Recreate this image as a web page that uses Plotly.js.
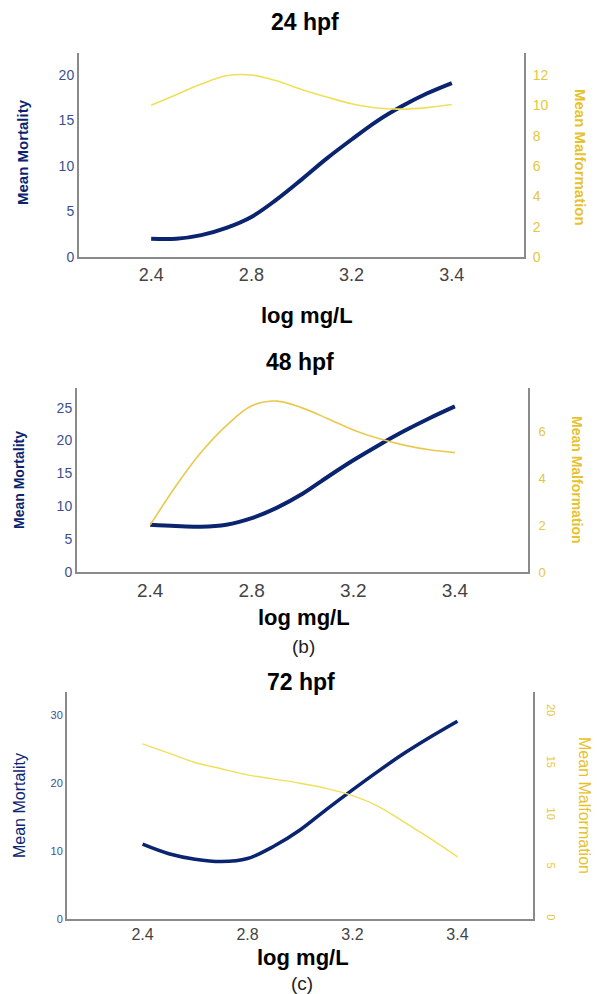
<!DOCTYPE html>
<html>
<head>
<meta charset="utf-8">
<script src="https://cdn.plot.ly/plotly-3.0.1.min.js"></script>
<style>html,body{margin:0;padding:0;background:#fff;} #chart{width:597px;height:994px;}</style>
</head>
<body>
<div id="chart"></div>
<script>
// x positions are tick indices (ticks are evenly spaced in the figure)
const xTickPos = [0, 1, 2, 3];
const xTickText = ['2.4', '2.8', '3.2', '3.4'];
const xPts = [0, 0.25, 0.5, 0.75, 1, 1.25, 1.5, 1.75, 2, 2.25, 2.5, 2.75, 3];

// 24 hpf
const mort24 = [2.0, 2.0, 2.4, 3.2, 4.4, 6.3, 8.5, 10.8, 12.9, 14.9, 16.55, 17.95, 19.1];
const malf24 = [10.0, 10.7, 11.4, 11.95, 12.0, 11.62, 11.05, 10.55, 10.1, 9.82, 9.75, 9.85, 10.05];
// 48 hpf
const mort48 = [7.2, 7.0, 6.9, 7.2, 8.2, 9.8, 11.9, 14.5, 17.0, 19.3, 21.45, 23.4, 25.2];
const malf48 = [2.0, 3.65, 5.1, 6.25, 7.1, 7.3, 7.0, 6.55, 6.07, 5.7, 5.42, 5.22, 5.1];
// 72 hpf
const mort72 = [11.0, 9.6, 8.8, 8.45, 8.9, 10.7, 13.1, 16.1, 19.0, 21.8, 24.45, 26.85, 29.1];
const malf72 = [16.9, 16.0, 15.1, 14.5, 13.9, 13.5, 13.1, 12.6, 11.9, 10.85, 9.3, 7.7, 6.0];

const titles = ['24 hpf', '48 hpf', '72 hpf'];
const panelLetters = ['(a)', '(b)', '(c)'];

const navy = '#0b2470';
const W = 597, H = 994;
const px = v => v / W;
const py = v => 1 - v / H;

const traces = [
  {x: xPts, y: mort24, xaxis: 'x', yaxis: 'y', mode: 'lines', line: {color: navy, width: 4, shape: 'spline', smoothing: 1}},
  {x: xPts, y: malf24, xaxis: 'x', yaxis: 'y2', mode: 'lines', line: {color: '#eee05a', width: 1.6, shape: 'spline', smoothing: 1}},
  {x: xPts, y: mort48, xaxis: 'x2', yaxis: 'y3', mode: 'lines', line: {color: navy, width: 4, shape: 'spline', smoothing: 1}},
  {x: xPts, y: malf48, xaxis: 'x2', yaxis: 'y4', mode: 'lines', line: {color: '#e9c94e', width: 1.6, shape: 'spline', smoothing: 1}},
  {x: xPts, y: mort72, xaxis: 'x3', yaxis: 'y5', mode: 'lines', line: {color: navy, width: 3.5, shape: 'spline', smoothing: 1}},
  {x: xPts, y: malf72, xaxis: 'x3', yaxis: 'y6', mode: 'lines', line: {color: '#eee05a', width: 1.4, shape: 'spline', smoothing: 1}}
];

const axLine = {showline: true, linecolor: '#8a8a8a', linewidth: 2, showgrid: false, zeroline: false, ticks: ''};

function xAx(l, r, fs, anchor) {
  return Object.assign({}, axLine, {
    domain: [px(l), px(r)], anchor: anchor,
    range: [-0.72, 3.72], tickvals: xTickPos, ticktext: xTickText,
    tickfont: {family: 'Liberation Sans, Arial', size: fs, color: '#444'}
  });
}
function yL(t, b, range, dtick, fs, anchor) {
  return Object.assign({}, axLine, {
    domain: [py(b), py(t)], anchor: anchor, range: range, dtick: dtick, tick0: 0,
    tickfont: {family: 'Liberation Sans, Arial', size: fs, color: '#3d4f8f'}
  });
}
function yR(range, dtick, fs, anchor, over, ang, standoff) {
  return Object.assign({}, axLine, {
    overlaying: over, side: 'right', anchor: anchor, range: range, dtick: dtick, tick0: 0,
    tickangle: ang, ticklabelstandoff: standoff,
    tickfont: {family: 'Liberation Sans, Arial', size: fs, color: '#e6c640'}
  });
}

const ann = [];
function addText(txt, x, y, size, color, bold, angle) {
  ann.push({text: bold ? '<b>' + txt + '</b>' : txt, x: px(x), y: py(y), xref: 'paper', yref: 'paper',
    xanchor: 'center', yanchor: 'middle', showarrow: false, textangle: angle || 0,
    font: {family: 'Liberation Sans, Arial', size: size, color: color}});
}
// titles
addText(titles[0], 305, 22, 23, '#000', true);
addText(titles[1], 300, 362, 23, '#000', true);
addText(titles[2], 301, 682, 23, '#000', true);
// x axis titles
addText('log mg/L', 307, 315, 22, '#000', true);
addText('log mg/L', 304, 617, 22, '#000', true);
addText('log mg/L', 303, 957, 22, '#000', true);
// panel letters
addText(panelLetters[1], 303, 646, 19, '#222', false);
addText(panelLetters[2], 302, 983, 19, '#222', false);
// y axis titles
addText('Mean Mortality', 22, 152, 15, navy, true, -90);
addText('Mean Malformation', 580, 157, 15, '#e6c22e', true, 90);
addText('Mean Mortality', 19, 480, 14, navy, true, -90);
addText('Mean Malformation', 577, 480, 14, '#e6c22e', true, 90);
addText('Mean Mortality', 19, 806, 16, navy, false, -90);
addText('Mean Malformation', 585, 805, 16, '#e6c22e', false, 90);

const layout = {
  width: W, height: H, margin: {l: 0, r: 0, t: 0, b: 0},
  paper_bgcolor: '#fff', plot_bgcolor: '#fff', showlegend: false,
  xaxis: xAx(79, 524, 18, 'y'),
  yaxis: yL(53, 257, [0, 22.4], 5, 14, 'x'),
  yaxis2: yR([0, 13.45], 2, 14, 'x', 'y', 0, 4),
  xaxis2: xAx(77, 528, 19, 'y3'),
  yaxis3: yL(388, 572, [0, 28], 5, 14, 'x2'),
  yaxis4: yR([0, 7.86], 2, 13, 'x2', 'y3', 0, 6),
  xaxis3: xAx(67, 533, 16, 'y5'),
  yaxis5: yL(692, 919, [0, 33.4], 10, 11, 'x3'),
  yaxis6: yR([0, 21.9], 5, 11, 'x3', 'y5', 90, 8),
  annotations: ann
};

Plotly.newPlot('chart', traces, layout, {displayModeBar: false, staticPlot: true});
</script>
</body>
</html>
